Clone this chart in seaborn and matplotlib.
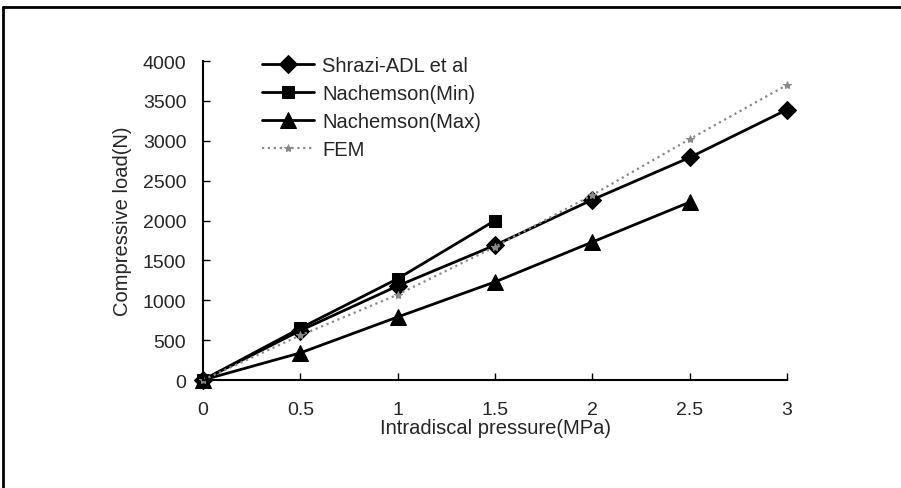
import numpy as np
import pandas as pd
import matplotlib
matplotlib.use('Agg')
import matplotlib.pyplot as plt
from matplotlib.lines import Line2D
import seaborn as sns

# --- data ---
pressure = [0, 0.5, 1, 1.5, 2, 2.5, 3]
shrazi = [0, 620, 1180, 1690, 2260, 2790, 3390]
nach_min = [0, 650, 1270, 2000]
nach_max = [0, 340, 790, 1230, 1730, 2230]
fem = [0, 560, 1070, 1670, 2320, 3020, 3700]

series = [
    ('Shrazi-ADL et al', pressure[:len(shrazi)], shrazi),
    ('Nachemson(Min)', pressure[:len(nach_min)], nach_min),
    ('Nachemson(Max)', pressure[:len(nach_max)], nach_max),
    ('FEM', pressure[:len(fem)], fem),
]
styles = {
    'Shrazi-ADL et al': dict(marker='D', markersize=9, color='black', linewidth=2, linestyle='-'),
    'Nachemson(Min)': dict(marker='s', markersize=8.5, color='black', linewidth=2, linestyle='-'),
    'Nachemson(Max)': dict(marker='^', markersize=12, color='black', linewidth=2, linestyle='-'),
    'FEM': dict(marker='*', markersize=6, color='#8a8a8a', linewidth=1.6, linestyle=':'),
}

sns.set_style('ticks')
plt.rcParams['font.family'] = ['Liberation Sans', 'DejaVu Sans']

fig = plt.figure(figsize=(9.01, 4.89), dpi=100)
ax = fig.add_axes([203 / 901, 1 - 381 / 489, 584 / 901, 319 / 489])

for name, xs, ys in series:
    df = pd.DataFrame({'x': xs, 'y': ys})
    st = styles[name]
    sns.lineplot(data=df, x='x', y='y', ax=ax, label=name, color=st['color'],
                 linewidth=st['linewidth'], linestyle=st['linestyle'],
                 marker=st['marker'], markersize=st['markersize'],
                 markeredgecolor=st['color'], clip_on=False)

ax.set_xlim(0, 3)
ax.set_ylim(0, 4000)
ax.set_xticks([0, 0.5, 1, 1.5, 2, 2.5, 3])
ax.set_xticklabels(['0', '0.5', '1', '1.5', '2', '2.5', '3'])
ax.set_yticks(np.arange(0, 4001, 500))
ax.tick_params(axis='both', direction='in', length=5, width=1, labelsize=14, color='black')
ax.tick_params(axis='y', pad=12)
ax.tick_params(axis='x', pad=15)
for s in ['top', 'right']:
    ax.spines[s].set_visible(False)
for s in ['left', 'bottom']:
    ax.spines[s].set_color('black')
    ax.spines[s].set_linewidth(1.5)

ax.set_xlabel('Intradiscal pressure(MPa)', fontsize=14.5, labelpad=0)
ax.set_ylabel('Compressive load(N)', fontsize=14.5, labelpad=8)

ax.legend(loc='upper left', bbox_to_anchor=(0.101, 1.015), frameon=False,
          fontsize=14.5, handlelength=2.6, labelspacing=0.45, borderpad=0,
          borderaxespad=0, handletextpad=0.4)

# scanned frame: top and left edges
fig.add_artist(Line2D([3 / 901, 1.0], [1 - 8 / 489, 1 - 8 / 489], color='black', lw=2))
fig.add_artist(Line2D([3 / 901, 3 / 901], [0, 1 - 8 / 489], color='black', lw=2))

fig.savefig('out.png', dpi=100)
